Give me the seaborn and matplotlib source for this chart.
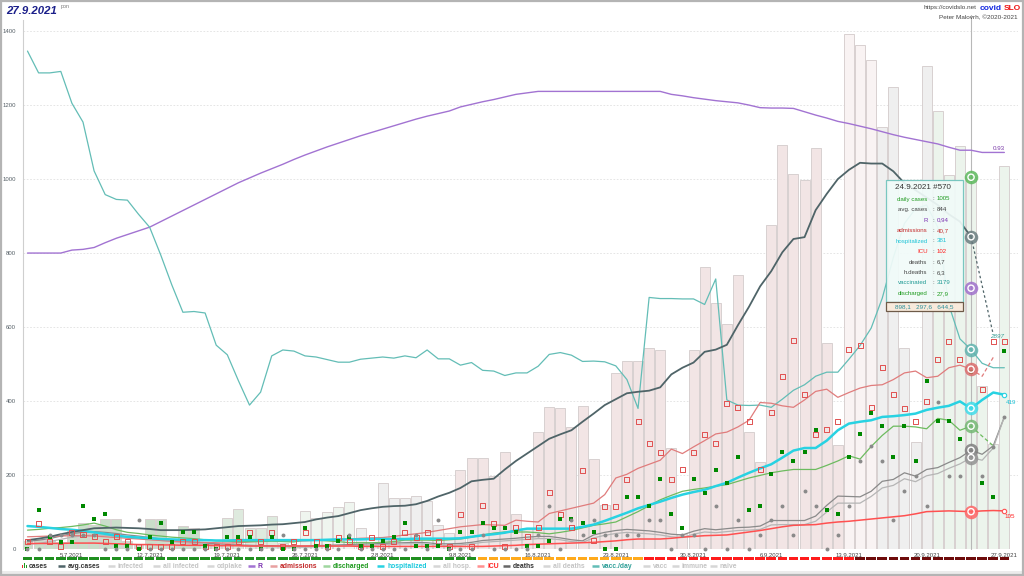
import pandas as pd
import matplotlib.pyplot as plt
import seaborn as sns
from matplotlib.patches import Rectangle

# day index: 0 = 1.7.2021 ... 88 = 27.9.2021
days = list(range(89))
tick_days = [4, 11, 18, 25, 32, 39, 46, 53, 60, 67, 74, 81, 88]
tick_labels = ["5.7.2021", "12.7.2021", "19.7.2021", "26.7.2021", "2.8.2021", "9.8.2021", "16.8.2021",
               "23.8.2021", "30.8.2021", "6.9.2021", "13.9.2021", "20.9.2021", "27.9.2021"]

# daily cases (bars)
cases = [22, 25, 25, 20, 49, 71, 65, 80, 80, 22,
         12, 80, 80, 25, 62, 58, 20, 15, 85, 108,
         56, 56, 90, 15, 10, 104, 85, 100, 114, 126,
         56, 12, 179, 137, 137, 142, 130, 65, 43, 213,
         245, 245, 197, 261, 94, 56, 316, 383, 380, 331,
         387, 243, 120, 476, 508, 508, 543, 539, 273, 40,
         539, 763, 664, 609, 740, 316, 234, 875, 1092, 1015,
         997, 1085, 556, 281, 1393, 1363, 1323, 1142, 1248, 544,
         288, 1306, 1185, 1010, 1090, 1005, 440, 284, 1035]

# 7-day average of cases (to 26.9)
avg_cases = [24, 28, 33, 40, 46, 51, 56, 57, 58, 57,
             56, 54, 51, 51, 51, 52, 53, 56, 59, 62,
             63, 64, 66, 67, 70, 73, 80, 85, 89, 97,
             105, 110, 114, 116, 117, 121, 130, 142, 152, 165,
             183, 187, 190, 215, 238, 258, 278, 298, 310, 321,
             344, 366, 389, 405, 421, 425, 428, 437, 472, 490,
             504, 533, 539, 552, 605, 655, 710, 751, 802, 838,
             843, 916, 960, 1000, 1025, 1044, 1042, 1042, 1021, 989,
             970, 950, 930, 905, 885, 844, 712, 580]

# R (chart scale)
r_line = [800, 800, 800, 800, 808, 810, 815, 828, 840, 850,
          860, 870, 885, 900, 915, 930, 945, 960, 975, 990,
          1003, 1016, 1028, 1040, 1053, 1065, 1076, 1087, 1097, 1107,
          1117, 1126, 1135, 1144, 1153, 1162, 1170, 1177, 1184, 1195,
          1202, 1209, 1215, 1222, 1229, 1233, 1237, 1237, 1237, 1237,
          1237, 1237, 1237, 1237, 1237, 1237, 1237, 1237, 1229, 1225,
          1220, 1216, 1212, 1209, 1206, 1200, 1193, 1192, 1192, 1191,
          1182, 1173, 1165, 1156, 1150, 1143, 1136, 1128, 1120, 1113,
          1107, 1101, 1095, 1086, 1078, 1078, 1072, 1072, 1072]
r_marker = 705

# vaccinations per day (chart scale)
vacc_day = [1346, 1287, 1287, 1291, 1205, 1154, 1022, 958, 945, 943,
            905, 870, 795, 714, 640, 642, 638, 551, 525, 455,
            389, 424, 522, 538, 535, 522, 519, 512, 505, 505,
            513, 516, 519, 516, 522, 517, 538, 514, 514, 497,
            504, 483, 481, 469, 476, 476, 494, 526, 531, 524,
            507, 508, 506, 495, 458, 380, 680, 677, 677, 676,
            676, 661, 730, 403, 389, 388, 389, 383, 405, 429,
            444, 467, 478, 478, 513, 550, 597, 678, 788, 880,
            920, 930, 870, 660, 568, 539, 502, 490, 490]

hospitalized = [62, 60, 57, 54, 52, 49, 45, 41, 36, 33,
                31, 29, 27, 26, 25, 24, 24, 23, 23, 24,
                24, 24, 24, 24, 24, 24, 24, 25, 26, 26,
                26, 27, 27, 27, 27, 28, 28, 28, 28, 29,
                33, 37, 40, 44, 50, 55, 55, 55, 55, 55,
                60, 66, 76, 87, 98, 110, 119, 128, 138, 147,
                154, 160, 170, 179, 193, 206, 218, 229, 247, 266,
                273, 273, 293, 321, 339, 344, 348, 357, 359, 362,
                366, 376, 382, 387, 399, 380, 403, 423, 417]

icu = [15, 15, 15, 15, 16, 16, 16, 15, 14, 13,
       12, 12, 11, 11, 10, 10, 10, 9, 9, 9,
       8, 8, 8, 8, 8, 8, 8, 8, 8, 8,
       7, 7, 7, 7, 7, 7, 7, 7, 7, 7,
       7, 7, 8, 9, 10, 12, 13, 14, 15, 16,
       17, 18, 20, 22, 25, 27, 27, 27, 29, 32,
       34, 36, 37, 38, 42, 46, 50, 55, 60, 64,
       65, 66, 70, 73, 75, 78, 81, 84, 87, 90,
       95, 101, 102, 103, 102, 101, 103, 104, 103]

# admissions (chart scale): average line to 26.9 and daily squares
adm_line = [33, 34, 35, 35, 36, 36, 35, 33, 31, 29,
            27, 25, 23, 21, 20, 19, 18, 17, 16, 17,
            19, 21, 23, 22, 21, 22, 24, 25, 26, 27,
            29, 30, 31, 34, 38, 41, 45, 50, 55, 60,
            63, 66, 65, 64, 78, 75, 73, 96, 103, 110,
            117, 124, 147, 192, 202, 218, 229, 240, 270, 258,
            276, 293, 311, 316, 330, 348, 396, 394, 387, 383,
            403, 426, 432, 410, 423, 435, 442, 444, 458, 476,
            481, 463, 467, 490, 497, 486, 467, 518]
adm_daily = [20, 70, 21, 8, 45, 38, 33, 21, 33, 20,
             8, 8, 8, 8, 20, 20, 8, 8, 8, 20,
             45, 20, 45, 8, 20, 45, 20, 8, 32, 20,
             8, 32, 8, 20, 45, 32, 45, 19, 8, 94,
             8, 117, 69, 8, 58, 33, 58, 153, 94, 58,
             213, 22, 116, 116, 188, 346, 286, 261, 188, 214,
             261, 310, 286, 394, 382, 346, 214, 370, 466, 563,
             418, 310, 322, 346, 538, 549, 382, 490, 418, 381,
             346, 400, 513, 560, 513, 488, 430, 560, 560]

# discharged (chart scale)
dis_line = [51, 53, 56, 58, 61, 65, 70, 62, 52, 45,
            42, 38, 35, 32, 30, 28, 25, 22, 21, 20,
            20, 20, 21, 20, 19, 25, 24, 22, 20, 17,
            17, 17, 18, 20, 24, 24, 24, 23, 25, 27,
            32, 38, 43, 46, 46, 46, 44, 41, 45, 50,
            57, 64, 68, 73, 87, 101, 117, 133, 145, 156,
            161, 165, 170, 174, 183, 192, 199, 206, 211, 215,
            215, 215, 226, 238, 252, 243, 277, 307, 332, 332,
            330, 325, 353, 348, 321, 332, 305, 279]
dis_daily = [0, 105, 33, 20, 20, 117, 81, 94, 9, 9,
             0, 33, 70, 20, 46, 46, 9, 0, 33, 33,
             33, 0, 33, 0, 0, 57, 8, 8, 21, 33,
             8, 8, 21, 33, 69, 8, 8, 8, 0, 45,
             45, 69, 58, 58, 45, 8, 8, 21, 81, 81,
             69, 45, 0, 0, 141, 141, 116, 188, 94, 58,
             188, 152, 214, 178, 250, 105, 117, 202, 261, 238,
             261, 322, 105, 94, 250, 310, 368, 333, 250, 332,
             238, 454, 347, 347, 297, 478, 178, 141, 536]

# deaths (chart scale)
deaths_line = [20, 24, 28, 35, 42, 45, 47, 45, 42, 38,
               35, 31, 27, 24, 21, 18, 16, 14, 12, 11,
               10, 9, 9, 8, 8, 8, 9, 10, 11, 12,
               13, 14, 15, 16, 17, 18, 17, 14, 14, 15,
               18, 23, 25, 27, 29, 32, 34, 34, 30, 25,
               22, 38, 45, 50, 53, 51, 49, 45, 40, 38,
               48, 55, 52, 55, 58, 59, 62, 77, 77, 77,
               77, 89, 118, 143, 142, 141, 156, 183, 188, 206,
               197, 215, 220, 234, 247, 267, 256, 279, 357]
hdeaths_line = [12, 15, 20, 26, 32, 36, 38, 37, 35, 32,
                29, 26, 23, 20, 17, 15, 13, 11, 10, 9,
                8, 7, 6, 6, 5, 5, 6, 7, 8, 9,
                10, 11, 12, 13, 14, 14, 13, 11, 10, 11,
                14, 18, 20, 22, 24, 26, 28, 28, 25, 20,
                18, 30, 37, 42, 45, 43, 41, 38, 33, 31,
                40, 46, 44, 47, 50, 51, 53, 65, 66, 66,
                66, 75, 100, 124, 124, 124, 142, 165, 172, 190,
                182, 198, 204, 218, 230, 247, 240, 273, 357]
deaths_daily = [0, 0, 38, 38, 38, 38, 38, 0, 0, 0,
                78, 0, 0, 0, 0, 0, 0, 0, 0, 0,
                0, 0, 0, 38, 0, 0, 0, 0, 0, 38,
                0, 0, 0, 0, 0, 38, 0, 78, 0, 0,
                0, 38, 0, 0, 0, 0, 38, 117, 0, 78,
                38, 78, 38, 38, 38, 38, 78, 78, 0, 38,
                38, 0, 117, 0, 78, 0, 38, 78, 117, 38,
                158, 117, 0, 38, 117, 238, 279, 238, 78, 158,
                197, 117, 398, 197, 197, 263, 197, 276, 357]

# tooltip for 24.9.2021
tip_day = 85
tip_title = "24.9.2021 #570"
tip_labels = ["daily cases", "avg. cases", "R", "admissions", "hospitalized",
              "ICU", "deaths", "h.deaths", "vaccinated", "discharged"]
tip_values = ["1005", "844", "0,94", "40,7", "381", "102", "6,7", "6,3", "3179", "27,9"]
tip_footer = "898,1   297,6   644,5"

legend_labels = ["cases", "avg.cases", "infected", "all infected", "odplake", "R", "admissions",
                 "discharged", "hospitalized", "all hosp.", "ICU", "deaths", "all deaths",
                 "vacc./day", "vacc", "immune", "naive"]

# ---------------------------------------------------------------- style
sns.set_theme(style="white")
plt.rcParams['font.family'] = ['Liberation Sans', 'DejaVu Sans']

W, H = 1024, 576
fig = plt.figure(figsize=(W / 100, H / 100), dpi=100)
ax = fig.add_axes([23 / W, 1 - 549 / H, 995 / W, 529 / H])

# bar shade by period
def shade(d):
    if d < 16:
        return "a"
    if d < 25:
        return "b"
    if d < 30:
        return "c"
    if d < 39:
        return "d"
    if d < 74:
        return "e"
    if d < 77:
        return "f"
    if d < 82:
        return "g"
    return "h"

shade_colors = {"a": "#c6e2c6", "b": "#dcecdc", "c": "#eef6ee", "d": "#efefef",
                "e": "#f4e3e3", "f": "#faf2f2", "g": "#efefef", "h": "#eaf6ea"}

bars = pd.DataFrame({"day": days, "cases": cases, "shade": [shade(d) for d in days]})
sns.barplot(data=bars, x="day", y="cases", hue="shade", palette=shade_colors,
            native_scale=True, dodge=False, width=0.9, errorbar=None,
            edgecolor="#d8d0d0", linewidth=0.7, legend=False, ax=ax, zorder=1)


def line(vals, color, lw, start=0, ls="-", z=3):
    x = days[start:start + len(vals)]
    sns.lineplot(x=x, y=vals, color=color, lw=lw, linestyle=ls, ax=ax, zorder=z, legend=False)


line(r_line, "#a273d2", 1.0)
line(vacc_day, "#63bdb6", 0.9)
line(deaths_line, "#8a8a8a", 0.9)
line(hdeaths_line, "#b5b5b5", 0.9)
line(icu, "#ff5050", 1.1)
line(adm_line[:86], "#e07c7c", 0.9)
line(adm_line[85:], "#e07c7c", 0.9, start=85, ls=(0, (3, 2)))
line(dis_line[:86], "#6dbb5f", 0.9)
line(dis_line[85:], "#6dbb5f", 0.9, start=85, ls=(0, (3, 2)))
line(hospitalized, "#28d2e2", 1.8, z=4)
line(avg_cases[:86], "#4f6468", 1.3, z=4)
line(avg_cases[85:], "#4f6468", 0.9, start=85, ls=(0, (2, 2)), z=4)

sns.scatterplot(x=days, y=adm_daily, marker="s", s=13, color="#e05050", linewidth=0.7, ax=ax, zorder=5)
ax.collections[-1].set_facecolor("none")
ax.collections[-1].set_edgecolor("#e05050")
sns.scatterplot(x=days, y=dis_daily, marker="s", s=11, color="#008800", linewidth=0, ax=ax, zorder=5)
sns.scatterplot(x=days, y=deaths_daily, marker="o", s=8, color="#8a8a8a", linewidth=0, ax=ax, zorder=5)
for c in ax.collections:
    c.set_clip_on(False)

# end points
sns.scatterplot(x=[88], y=[hospitalized[88]], s=10, color="white", edgecolor="#28d2e2", linewidth=0.8, ax=ax, zorder=6)
sns.scatterplot(x=[88], y=[icu[88]], s=10, color="white", edgecolor="#ff5050", linewidth=0.8, ax=ax, zorder=6)

# hover line and highlight circles
ax.axvline(tip_day, color="#b8b8b8", lw=0.8, zorder=2, ymax=1.01, clip_on=False)
highlights = [(cases[tip_day], "#5cb85c"), (avg_cases[tip_day], "#6b7d80"), (r_marker, "#a070cc"),
              (vacc_day[tip_day], "#5fb3ae"), (adm_line[tip_day], "#da6b6b"),
              (hospitalized[tip_day], "#3fdcea"), (dis_line[tip_day], "#74b874"),
              (deaths_line[tip_day], "#7f7f7f"), (hdeaths_line[tip_day], "#929292"),
              (icu[tip_day], "#ff6464")]
for v, c in highlights:
    sns.scatterplot(x=[tip_day], y=[v], s=95, color=c, alpha=0.85, linewidth=0, ax=ax, zorder=7)
    sns.scatterplot(x=[tip_day], y=[v], s=20, color="none", edgecolor="white", linewidth=1.0, ax=ax, zorder=8)

ax.set_xlim(-0.405, 89.23)
ax.set_ylim(0, 1430)
ax.set_xlabel("")
ax.set_ylabel("")
ax.set_yticks(range(0, 1401, 200))
ax.set_yticklabels([str(v) for v in range(0, 1401, 200)])
ax.set_xticks(tick_days)
ax.set_xticklabels(tick_labels)
ax.tick_params(axis="y", length=0, pad=5, labelsize=4.3, labelcolor="#555f66")
ax.tick_params(axis="x", length=2, width=0.5, color="#aaaaaa", pad=1, labelsize=4.3, labelcolor="#444")
ax.yaxis.grid(True, color="#e0e0e0", linestyle=(0, (2, 2)), lw=0.6)
ax.set_axisbelow(True)
for s in ["top", "right", "bottom"]:
    ax.spines[s].set_visible(False)
ax.spines["left"].set_color("#cfcfcf")
ax.spines["left"].set_linewidth(0.8)

# coloured period strip under the axis
def phase(d):
    if d <= 40:
        return "#1f8f1f"
    if d <= 55:
        return "#ffaa1c"
    if d <= 74:
        return "#ff1c1c"
    return "#6e0b0b"

tr = ax.get_xaxis_transform()
for d in days:
    ax.add_patch(Rectangle((d - 0.43, -0.0214), 0.86, 0.0055, transform=tr,
                           facecolor=phase(d), lw=0, clip_on=False))

# ---------------------------------------------------------------- overlay in pixels
ov = fig.add_axes([0, 0, 1, 1], zorder=10)
ov.set_xlim(0, W)
ov.set_ylim(H, 0)
ov.axis("off")
ov.patch.set_alpha(0)

ov.add_patch(Rectangle((0, 571), W, 5, facecolor="#ececec", lw=0))
ov.add_patch(Rectangle((1, 1), W - 2, H - 2, fill=False, edgecolor="#b4b4b4", lw=1.6))

ov.text(6, 14, "27.9.2021", fontsize=8.2, fontweight="bold", fontstyle="italic",
        color="#1b1f8a", va="baseline")
ov.text(61, 8, "pon", fontsize=3.8, color="#777")
ov.text(977, 8, "https://covidslo.net", fontsize=4.6, color="#444", ha="right", va="center")
ov.text(980, 8, "covid", fontsize=6, fontweight="bold", color="#1428e0", ha="left", va="center")
ov.text(1004, 8, "SLO", fontsize=6, fontweight="bold", color="#ee1111", ha="left", va="center")
ov.text(1018, 18, "Peter Malovrh, \u00a92020-2021", fontsize=4.6, color="#444", ha="right", va="center")

# series end labels
ov.text(993, 149, "0.93", fontsize=4.5, color="#7a3aa8", va="center")
ov.text(990, 337, "2897", fontsize=4.5, color="#3a9f97", fontstyle="italic", va="center")
ov.text(1006, 402, "419", fontsize=4.5, color="#18c0d4", va="center")
ov.text(1004, 517, "105", fontsize=4.5, color="#ff2020", va="center")

# tooltip
ov.add_patch(Rectangle((885.5, 180), 77, 122, facecolor="#f1fbf9", edgecolor="#6fc3bc", lw=0.9, alpha=0.92))
ov.add_patch(Rectangle((885.5, 302), 77, 8.5, facecolor="#f8eadb", edgecolor="#6e5a48", lw=0.9))
ov.text(923, 187.5, tip_title, ha="center", va="center", fontsize=5.8, color="#333")
tip_colors = ["#1e9a1e", "#444", "#7a2fb0", "#c42a2a", "#1fc3d6", "#ff2020",
              "#444", "#444", "#1f9a94", "#1e9a1e"]
for i, (lab, val, col) in enumerate(zip(tip_labels, tip_values, tip_colors)):
    y = 199 + i * 10.5
    ov.text(927.5, y, lab, ha="right", va="center", fontsize=4.4, color=col)
    ov.text(933, y, ":", ha="center", va="center", fontsize=4.4, color="#444")
    ov.text(936.5, y, val, ha="left", va="center", fontsize=4.4, color=col)
ov.text(924, 306.5, tip_footer, ha="center", va="center", fontsize=4.6, color="#2a8f9a")

# legend row
legend_x = [22, 58, 108, 153, 207, 248, 270, 323, 377, 433, 477, 503, 543, 592, 643, 672, 710]
legend_icon = ["bar", "#4f6468", "#d6d6d6", "#d6d6d6", "#d6d6d6", "#a273d2", "#e8a0a0",
               "#9fd69f", "#28d2e2", "#d6d6d6", "#ff9090", "#666", "#d6d6d6", "#63bdb6",
               "#d6d6d6", "#d6d6d6", "#d6d6d6"]
legend_text = ["#333", "#333", "#c4c4c4", "#c4c4c4", "#c4c4c4", "#7a2fb0", "#c42a2a",
               "#1e9a1e", "#18c8dc", "#c4c4c4", "#ff2020", "#333", "#c4c4c4", "#2f9f98",
               "#c4c4c4", "#c4c4c4", "#c4c4c4"]
for lab, x, ic, tc in zip(legend_labels, legend_x, legend_icon, legend_text):
    if ic == "bar":
        ov.add_patch(Rectangle((x, 565), 1.2, 3, facecolor="#e03030", lw=0))
        ov.add_patch(Rectangle((x + 1.8, 563), 1.2, 5, facecolor="#1e9a1e", lw=0))
        ov.add_patch(Rectangle((x + 3.6, 564.5), 1.2, 3.5, facecolor="#1e9a1e", lw=0))
        tx = x + 6.5
    else:
        ov.plot([x, x + 7], [566, 566], color=ic, lw=1.8, solid_capstyle="butt")
        tx = x + 10
    ov.text(tx, 566.3, lab, fontsize=4.9, fontweight="bold", color=tc, va="center", ha="left")

fig.savefig("out.png", dpi=100)
